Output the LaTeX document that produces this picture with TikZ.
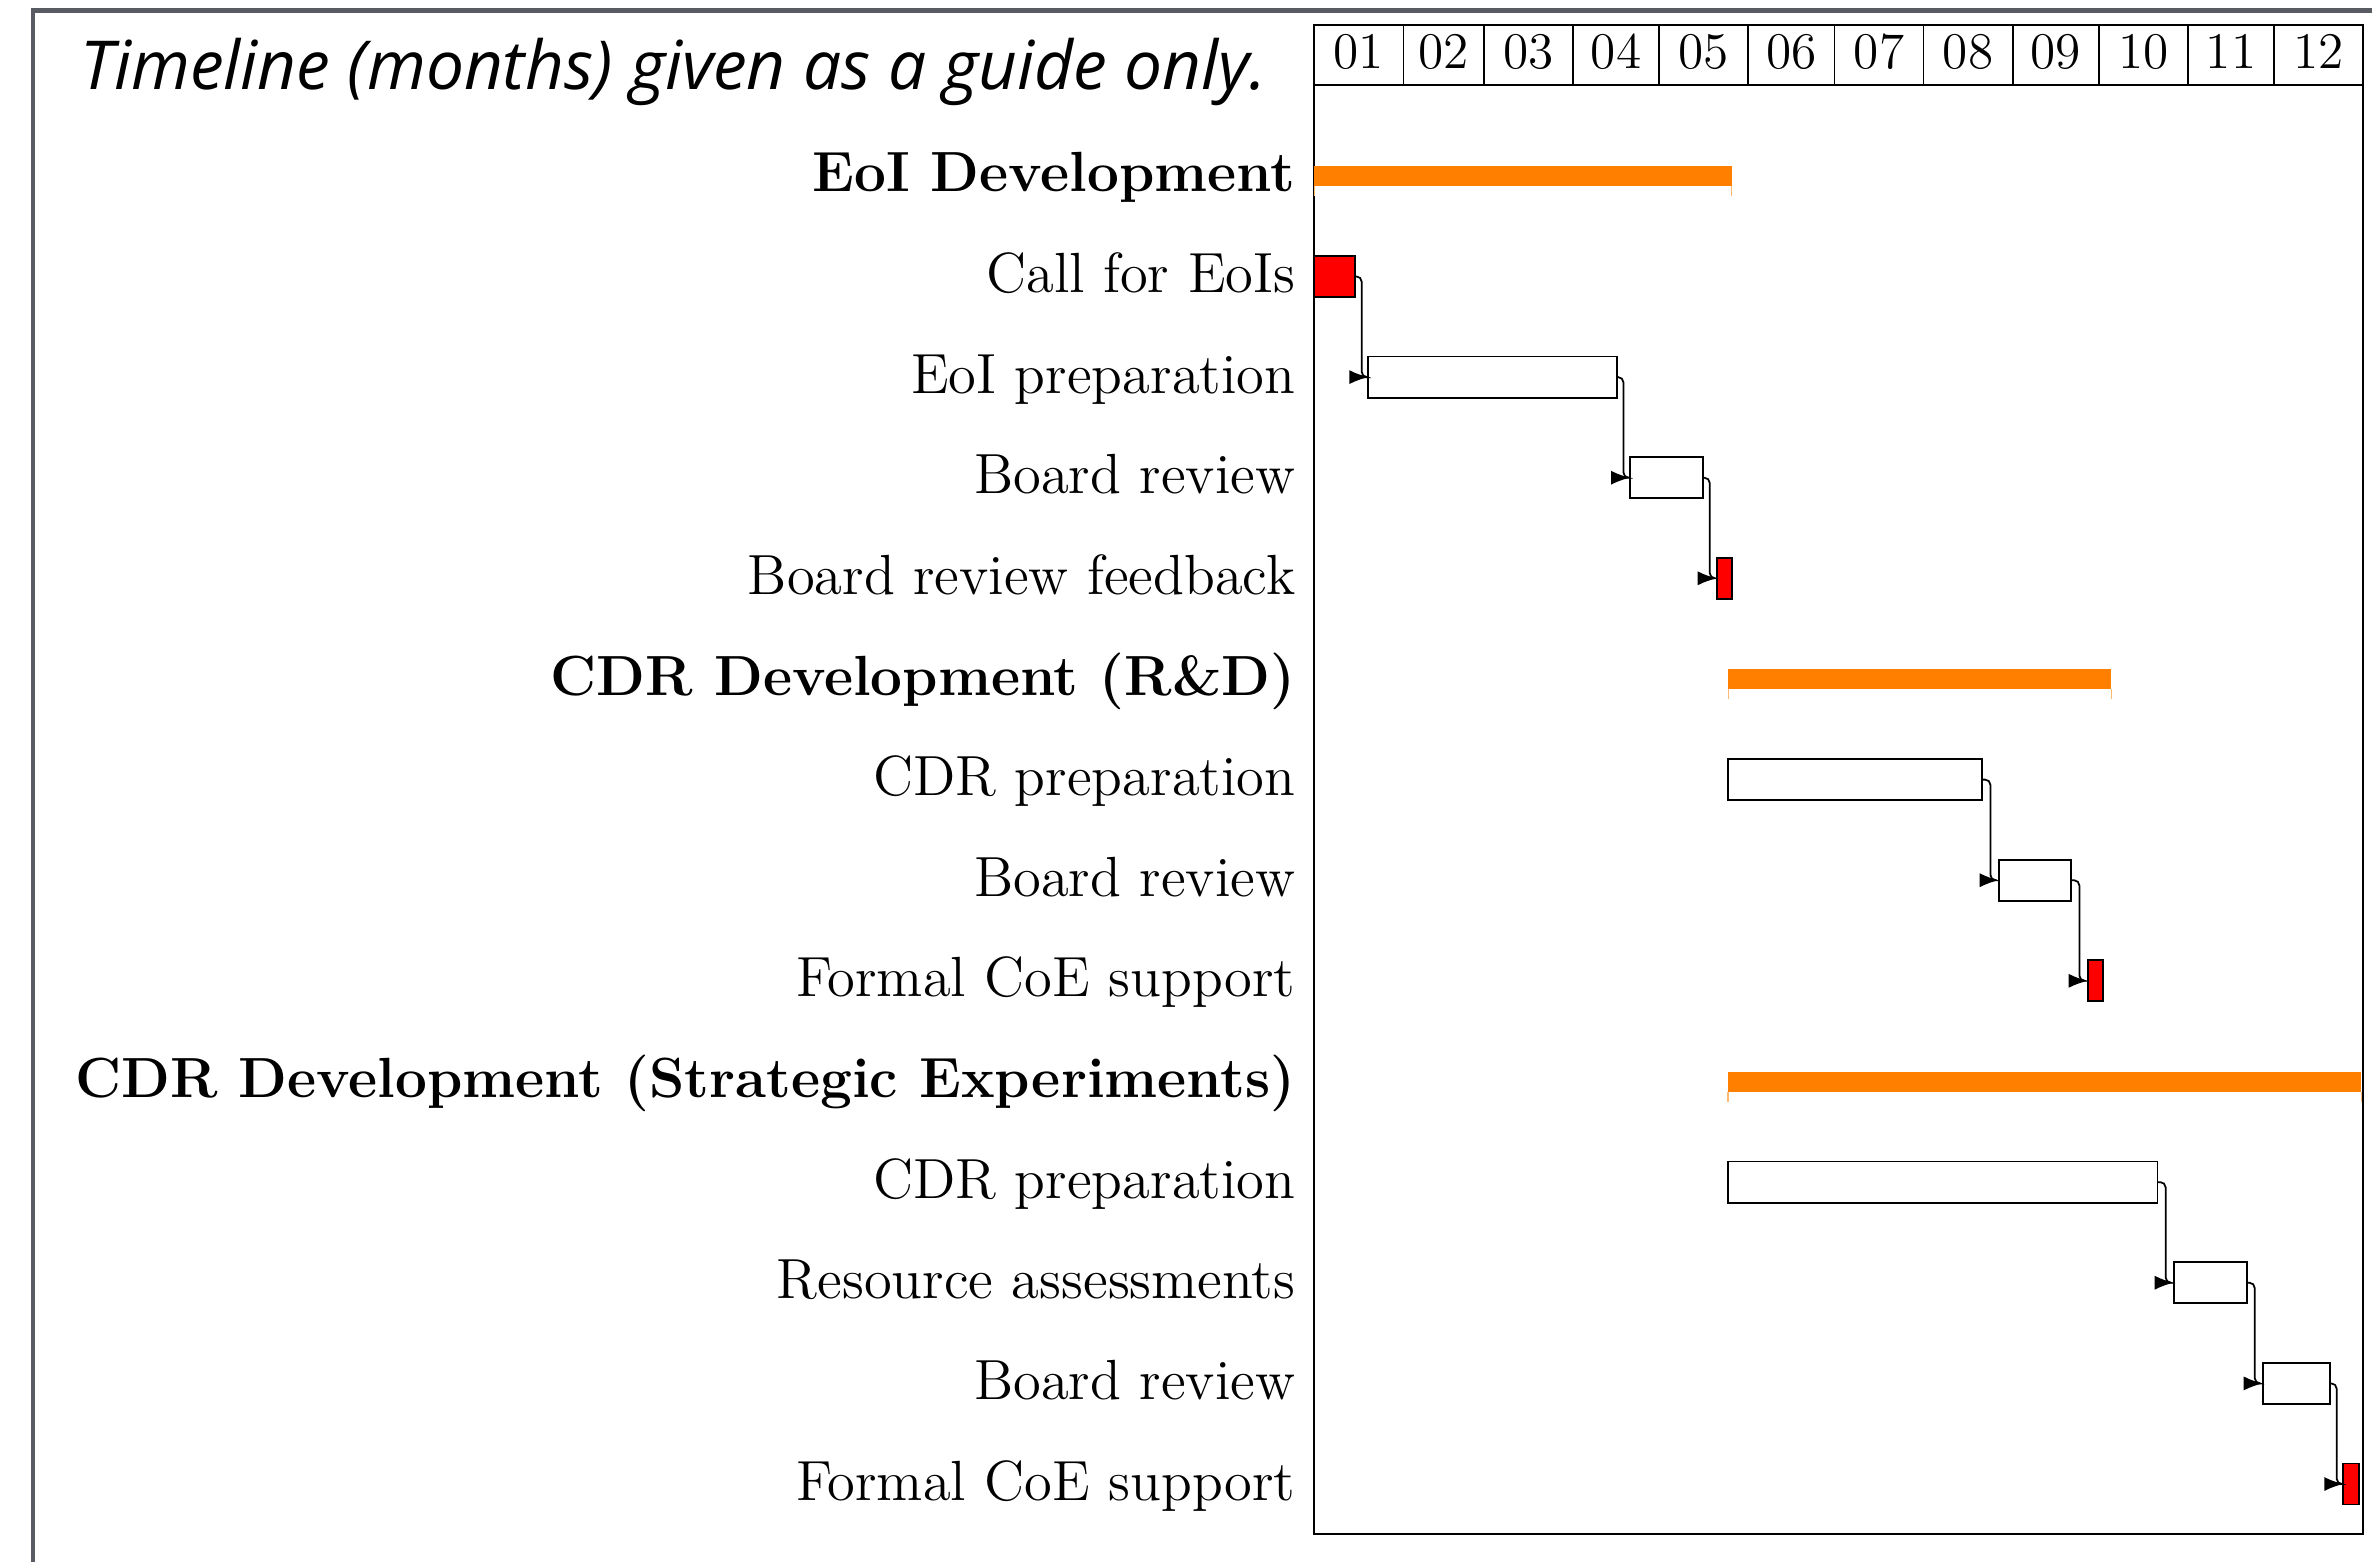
\documentclass[tikz,border=0pt]{standalone}
\usepackage{fontspec}
\newfontfamily\titlefont{Open Sans}
\newfontfamily\labfont{lmroman12-regular}[Extension=.otf,BoldFont=lmroman12-bold]
\usetikzlibrary{arrows.meta,calc}
\definecolor{framegrey}{RGB}{88,92,98}
\definecolor{grouporange}{RGB}{255,128,0}
\begin{document}
\begin{tikzpicture}[x=0.01cm,y=-0.01cm,
  taskbar/.style={draw,line width=0.5pt,fill=white,anchor=west,inner sep=0pt,outer sep=0pt,minimum height=0.41cm},
  milebar/.style={taskbar,fill=red},
  groupbar/.style={fill=grouporange,anchor=west,inner sep=0pt,outer sep=0pt,minimum height=0.2cm},
  tasklabel/.style={anchor=base east,inner sep=0pt,font=\labfont\fontsize{16.1}{20}\selectfont},
  grouplabel/.style={anchor=base east,inner sep=0pt,font=\labfont\fontsize{16.1}{20}\selectfont\bfseries},
  monthlabel/.style={anchor=base,inner sep=0pt,font=\labfont\fontsize{14.6}{18}\selectfont},
  link/.style={line width=0.5pt,rounded corners=1.5pt,-{Latex[length=5.4pt,width=4pt]}},
  peak/.style={draw=grouporange!55,line width=0.3pt},
  gridline/.style={line width=0.5pt}]

\useasboundingbox (0,0) rectangle (2372,1562);

% outer grey frame
\draw[framegrey,line width=1.42pt] (33,1562) -- (33,10) -- (2372,10);

% title
\node[anchor=base west,inner sep=0pt,font=\titlefont\itshape\fontsize{19.2}{24}\selectfont] (title) at (80,89) {Timeline (months) given as a guide only.};

% chart frame and header
\draw[gridline] (1314.3,25) rectangle (2363.3,1534.3);
\draw[gridline] (1314.3,85) -- (2363.3,85);
\foreach \a/\b/\m in {0/31/01,31/59/02,59/90/03,90/120/04,120/151/05,151/181/06,181/212/07,212/243/08,243/273/09,273/304/10,304/334/11,334/365/12} {
  \node[monthlabel] (m\m) at ({1314.3+2.874*(\a+\b)/2},68) {\m};
  \draw[gridline] ({1314.3+2.874*\b},25) -- ({1314.3+2.874*\b},85);
}

% labels
\node[grouplabel] (l0) at (1296,191.8) {EoI Development};
\node[tasklabel] (l1) at (1296,292.4) {Call for EoIs};
\node[tasklabel] (l2) at (1296,393.1) {EoI preparation};
\node[tasklabel] (l3) at (1296,493.7) {Board review};
\node[tasklabel] (l4) at (1296,594.3) {Board review feedback};
\node[grouplabel] (l5) at (1296,695.0) {CDR Development (R\&D)};
\node[tasklabel] (l6) at (1296,795.6) {CDR preparation};
\node[tasklabel] (l7) at (1296,896.2) {Board review};
\node[tasklabel] (l8) at (1296,996.8) {Formal CoE support};
\node[grouplabel] (l9) at (1296,1097.5) {CDR Development (Strategic Experiments)};
\node[tasklabel] (l10) at (1296,1198.1) {CDR preparation};
\node[tasklabel] (l11) at (1296,1298.7) {Resource assessments};
\node[tasklabel] (l12) at (1296,1399.4) {Board review};
\node[tasklabel] (l13) at (1296,1500.0) {Formal CoE support};

% group bars
\node[groupbar,minimum width=4.174cm] (g0) at (1314.3,175.8) {};
\node[groupbar,minimum width=3.827cm] (g5) at (1728.3,679.0) {};
\node[groupbar,minimum width=6.33cm] (g9) at (1728,1081.5) {};
\foreach \g in {g0,g5,g9} {
  \draw[peak] (\g.south west) -- ++(0,10);
  \draw[peak] (\g.south east) -- ++(0,10);
}

% task bars
\node[milebar,minimum width=0.407cm] (t1) at (1314.3,276.4) {};
\node[taskbar,minimum width=2.484cm] (t2) at (1368.3,377.1) {};
\node[taskbar,minimum width=0.727cm] (t3) at (1630,477.7) {};
\node[milebar,minimum width=0.15cm] (t4) at (1716.7,578.3) {};
\node[taskbar,minimum width=2.54cm] (t6) at (1728,779.6) {};
\node[taskbar,minimum width=0.723cm] (t7) at (1998.7,880.2) {};
\node[milebar,minimum width=0.15cm] (t8) at (2087.7,980.8) {};
\node[taskbar,minimum width=4.293cm] (t10) at (1728,1182.1) {};
\node[taskbar,minimum width=0.73cm] (t11) at (2173.7,1282.7) {};
\node[taskbar,minimum width=0.673cm] (t12) at (2262.7,1383.4) {};
\node[milebar,minimum width=0.154cm] (t13) at (2343.3,1484.0) {};

% links
\foreach \s/\t in {t1/t2,t2/t3,t3/t4,t6/t7,t7/t8,t10/t11,t11/t12,t12/t13} {
  \draw[link] (\s.east) -| ($(\s.east)!0.5!(\t.west)$) |- (\t.west);
}
\end{tikzpicture}
\end{document}
